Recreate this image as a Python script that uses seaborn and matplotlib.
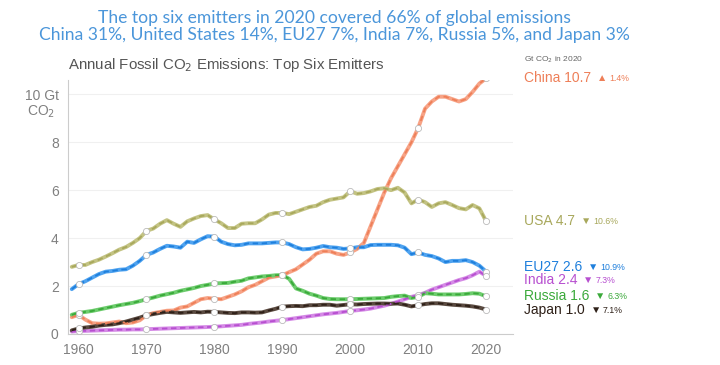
import numpy as np
import pandas as pd
import seaborn as sns
import matplotlib.pyplot as plt

# annual fossil CO2 emissions, Gt CO2, 1959-2020
years = list(range(1959, 2021))

china = [0.70, 0.80, 0.60, 0.45, 0.43, 0.44, 0.48, 0.52, 0.45, 0.48, 0.57,
         0.78, 0.87, 0.92, 0.97, 0.98, 1.10, 1.15, 1.30, 1.45, 1.50,
         1.47, 1.45, 1.55, 1.65, 1.78, 1.95, 2.05, 2.20, 2.35, 2.40,
         2.45, 2.58, 2.70, 2.90, 3.10, 3.35, 3.45, 3.45, 3.35, 3.30,
         3.40, 3.55, 3.80, 4.50, 5.20, 5.90, 6.50, 7.00, 7.50, 8.00,
         8.60, 9.40, 9.70, 9.90, 9.90, 9.80, 9.70, 9.80, 10.10, 10.45,
         10.67]
usa = [2.80, 2.88, 2.88, 3.00, 3.10, 3.23, 3.37, 3.52, 3.63, 3.80, 4.00,
       4.30, 4.40, 4.60, 4.75, 4.60, 4.47, 4.70, 4.82, 4.92, 4.96,
       4.78, 4.62, 4.42, 4.42, 4.60, 4.62, 4.62, 4.78, 4.98, 5.05,
       5.05, 5.00, 5.10, 5.20, 5.30, 5.35, 5.50, 5.60, 5.65, 5.70,
       5.96, 5.85, 5.88, 5.95, 6.05, 6.08, 6.00, 6.10, 5.90, 5.45,
       5.61, 5.50, 5.30, 5.45, 5.50, 5.38, 5.25, 5.20, 5.38, 5.24,
       4.70]
eu27 = [1.87, 2.08, 2.20, 2.35, 2.50, 2.60, 2.63, 2.68, 2.70, 2.85, 3.05,
        3.30, 3.40, 3.55, 3.68, 3.65, 3.60, 3.85, 3.80, 3.95, 4.08,
        4.06, 3.85, 3.75, 3.70, 3.72, 3.78, 3.78, 3.78, 3.80, 3.82,
        3.82, 3.75, 3.62, 3.53, 3.55, 3.60, 3.67, 3.62, 3.60, 3.55,
        3.57, 3.62, 3.62, 3.71, 3.72, 3.72, 3.72, 3.70, 3.60, 3.33,
        3.40, 3.30, 3.25, 3.15, 3.00, 3.05, 3.05, 3.08, 3.00, 2.85,
        2.60]
india = [0.10, 0.12, 0.13, 0.14, 0.15, 0.16, 0.17, 0.18, 0.18, 0.19, 0.19,
         0.20, 0.21, 0.22, 0.23, 0.24, 0.25, 0.26, 0.27, 0.28, 0.29,
         0.30, 0.32, 0.34, 0.36, 0.38, 0.42, 0.45, 0.48, 0.52, 0.55,
         0.58, 0.62, 0.66, 0.70, 0.74, 0.78, 0.82, 0.85, 0.88, 0.92,
         0.96, 0.99, 1.02, 1.06, 1.12, 1.18, 1.26, 1.35, 1.45, 1.55,
         1.62, 1.72, 1.85, 1.95, 2.05, 2.15, 2.25, 2.33, 2.45, 2.60,
         2.42]
russia = [0.80, 0.88, 0.92, 0.96, 1.02, 1.08, 1.14, 1.20, 1.25, 1.30, 1.37,
          1.45, 1.52, 1.60, 1.66, 1.72, 1.80, 1.86, 1.92, 2.00, 2.05,
          2.11, 2.12, 2.13, 2.18, 2.22, 2.32, 2.36, 2.40, 2.42, 2.45,
          2.46, 2.30, 1.90, 1.80, 1.68, 1.60, 1.50, 1.46, 1.45, 1.45,
          1.45, 1.46, 1.47, 1.48, 1.49, 1.50, 1.55, 1.58, 1.60, 1.50,
          1.55, 1.70, 1.68, 1.65, 1.65, 1.65, 1.65, 1.67, 1.70, 1.68,
          1.57]
japan = [0.15, 0.23, 0.27, 0.30, 0.35, 0.38, 0.40, 0.45, 0.52, 0.60, 0.68,
         0.78, 0.83, 0.88, 0.92, 0.90, 0.88, 0.90, 0.92, 0.90, 0.93,
         0.92, 0.90, 0.88, 0.87, 0.90, 0.90, 0.89, 0.90, 0.98, 1.05,
         1.14, 1.16, 1.17, 1.16, 1.20, 1.20, 1.22, 1.22, 1.18, 1.21,
         1.24, 1.23, 1.25, 1.26, 1.27, 1.27, 1.26, 1.27, 1.22, 1.15,
         1.20, 1.25, 1.28, 1.28, 1.25, 1.22, 1.20, 1.18, 1.15, 1.10,
         1.02]

countries = ["China", "USA", "EU27", "India", "Russia", "Japan"]
light = ["#F7A386", "#C3C383", "#4FA3F0", "#D58BE6", "#6DCC6D", "#5A4A40"]
dark = ["#EE7F58", "#A8A85C", "#1E7FDC", "#B74FD0", "#3AA93A", "#2E2018"]

label_text = ["China 10.7", "USA 4.7", "EU27 2.6", "India 2.4", "Russia 1.6", "Japan 1.0"]
label_y = [10.67, 4.71, 2.79, 2.25, 1.58, 1.0]
arrows = ["▲", "▼", "▼", "▼", "▼", "▼"]
pcts = ["1.4%", "10.6%", "10.9%", "7.3%", "6.3%", "7.1%"]

values = [china, usa, eu27, india, russia, japan]
df = pd.concat([pd.DataFrame({"year": years, "gt": v, "country": c})
                for c, v in zip(countries, values)])
decades = df[df["year"] % 10 == 0]

sns.set_style("white")
plt.rcParams["font.family"] = ["Liberation Sans", "DejaVu Sans"]

fig = plt.figure(figsize=(7.2, 3.65), dpi=100)
ax = fig.add_axes([0.094, 0.085, 0.619, 0.696])

pal_light = dict(zip(countries, light))
pal_dark = dict(zip(countries, dark))
sns.lineplot(data=df, x="year", y="gt", hue="country", palette=pal_light,
             lw=2.8, legend=False, ax=ax)
sns.lineplot(data=df, x="year", y="gt", hue="country", palette=pal_dark,
             lw=1.3, legend=False, ax=ax, dashes=False)
for line in ax.get_lines()[len(countries):]:
    line.set_dashes((3, 2))
sns.scatterplot(data=decades, x="year", y="gt", color="white", edgecolor="#bbbbbb",
                s=20, linewidth=0.6, legend=False, ax=ax, zorder=5)

ax.set_xlim(1958.4, 2024)
ax.set_ylim(0, 10.6)
ax.set_xticks(range(1960, 2021, 10))
ax.set_yticks([0, 2, 4, 6, 8, 10])
ax.set_yticklabels(["0", "2", "4", "6", "8", "10 Gt"])
ax.text(1956.6, 9.28, "CO$_2$", ha="right", va="center", color="#808080", fontsize=10)
ax.tick_params(colors="#808080", labelsize=10, length=3, width=0.6)
ax.set_xlabel("")
ax.set_ylabel("")
ax.grid(axis="y", color="#f0f0f0", lw=0.8)
for s in ["top", "right"]:
    ax.spines[s].set_visible(False)
for s in ["left", "bottom"]:
    ax.spines[s].set_color("#cccccc")

ax.text(0, 1.025, "Annual Fossil CO$_2$ Emissions: Top Six Emitters", transform=ax.transAxes,
        fontsize=10.8, color="#555555", va="bottom")

ax.text(2025.6, 11.45, "Gt CO$_2$ in 2020", fontsize=6, color="#666666",
        va="center", clip_on=False)
for txt, y, arr, p, col in zip(label_text, label_y, arrows, pcts, dark):
    t = ax.text(2025.6, y, txt, fontsize=10, color=col, va="center", clip_on=False)
    a = ax.annotate(arr, xy=(1, y), xycoords=(t, "data"), xytext=(4, 0),
                    textcoords="offset points", fontsize=7.5, color=col, va="center",
                    annotation_clip=False)
    ax.annotate(p, xy=(1, y), xycoords=(a, "data"), xytext=(1.5, -0.5),
                textcoords="offset points", fontsize=6.3, color=col, va="center",
                annotation_clip=False)

fig.text(0.465, 0.952, "The top six emitters in 2020 covered 66% of global emissions",
         ha="center", va="center", fontsize=12.6, color="#4B96DA", family="Lato")
fig.text(0.465, 0.905, "China 31%, United States 14%, EU27 7%, India 7%, Russia 5%, and Japan 3%",
         ha="center", va="center", fontsize=12.6, color="#4B96DA", family="Lato")

fig.savefig("out.png", dpi=100)
